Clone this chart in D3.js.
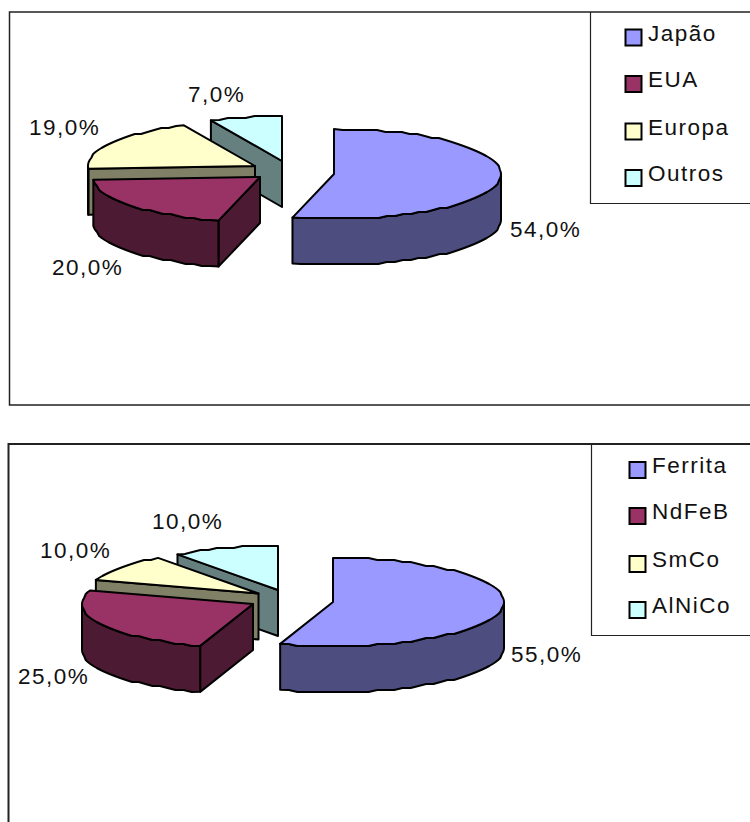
<!DOCTYPE html>
<html>
<head>
<meta charset="utf-8">
<script src="https://cdn.jsdelivr.net/npm/d3@7/dist/d3.min.js"></script>
<style>
  html, body { margin: 0; padding: 0; background: #fff; }
  svg { display: block; }
  text { font-family: "Liberation Sans", Arial, sans-serif; font-size: 22.5px; letter-spacing: 1.5px; fill: #111; }
</style>
</head>
<body>
<svg id="chart" width="750" height="822"></svg>
<script>
// Market share by region
const regionNames = ["Japão", "EUA", "Europa", "Outros"];
const regionShares = [54, 20, 19, 7];

// Market share by magnet material
const materialNames = ["Ferrita", "NdFeB", "SmCo", "AlNiCo"];
const materialShares = [55, 25, 10, 10];

const sliceColors = ["#9999ff", "#993366", "#ffffcc", "#ccffff"];
const sideColors = ["#4d4d80", "#4d1a33", "#808066", "#668080"];

// Exploded 3D layout: one apex per slice, paint order back to front
const regionLayout = {
  rx: 167, ry: 45, depth: 46,
  apex: [[334, 174], [260, 177], [255, 166], [282, 161]],
  order: [3, 2, 1, 0],
  labels: [[510, 237], [52, 275], [29, 135], [188, 102]],
  frame: { x: 9.5, top: 12, bottom: 405, width: 1.5 },
  legend: { x: 590, bottom: 203, swatchX: 625.5, textX: 648,
            swatchY: [29.5, 76, 123.5, 170], baseY: [41, 87, 135, 181] }
};
const materialLayout = {
  rx: 171, ry: 44, depth: 46,
  apex: [[333, 602], [253, 604], [258.5, 593.5], [278, 590]],
  order: [3, 2, 1, 0],
  labels: [[511, 662], [18, 684], [40, 558], [152, 529]],
  frame: { x: 8.5, top: 444, bottom: null, width: 2 },
  legend: { x: 591, bottom: 635, swatchX: 629.5, textX: 652,
            swatchY: [462, 508, 556, 602], baseY: [473, 519, 567, 613] }
};

const svg = d3.select("#chart");
const percent = d3.formatLocale({ decimal: ",", thousands: ".", grouping: [3], currency: ["", ""] }).format(".1f");
const pie = d3.pie().sort(null).startAngle(0).endAngle(2 * Math.PI);
const outline = d3.line();
const rimStep = Math.PI / 60;
const rimGrid = 2; // coarse vertical grid that gives the rim its stepped edge

function drawChart(names, shares, layout) {
  const { rx, ry, depth } = layout;
  const frame = svg.append("g")
    .attr("stroke", "#222").attr("stroke-width", layout.frame.width).attr("fill", "none");
  const frameLine = [[750, layout.frame.top], [layout.frame.x, layout.frame.top]];
  if (layout.frame.bottom === null) frameLine.push([layout.frame.x, 822]);
  else frameLine.push([layout.frame.x, layout.frame.bottom], [750, layout.frame.bottom]);
  frame.append("path").attr("d", outline(frameLine));
  frame.append("path").attr("stroke-width", 1.2).attr("d", outline([
    [layout.legend.x + 0.5, layout.frame.top],
    [layout.legend.x + 0.5, layout.legend.bottom + 0.5],
    [750, layout.legend.bottom + 0.5]
  ]));

  const arcs = pie(shares);

  layout.order.forEach(i => {
    const [cx, cy] = layout.apex[i];
    const sx = d3.scaleLinear().domain([-1, 1]).range([cx - rx, cx + rx]);
    const sy = d3.scaleLinear().domain([-1, 1]).range([cy - ry, cy + ry]);
    const at = a => [sx(Math.sin(a)), sy(-Math.cos(a))];
    const stepped = (a0, a1) => {
      const n = Math.max(1, Math.round((a1 - a0) / rimStep));
      return d3.range(n + 1).map(k => {
        const [x, y] = at(a0 + (a1 - a0) * k / n);
        return (k === 0 || k === n) ? [x, y] : [x, Math.round(y / rimGrid) * rimGrid];
      });
    };
    const { startAngle: a0, endAngle: a1 } = arcs[i];
    const g = svg.append("g").attr("stroke", "#000").attr("stroke-width", 2).attr("stroke-linejoin", "round");
    const wall = pts => g.append("path").attr("fill", sideColors[i]).attr("d",
      outline(pts.concat(pts.slice().reverse().map(([x, y]) => [x, y + depth]))) + "Z");

    // Cut faces and the front rim, only where they turn toward the viewer
    if (Math.sin(a0) < -1e-6) wall([[cx, cy], at(a0)]);
    if (Math.sin(a1) > 1e-6) wall([[cx, cy], at(a1)]);
    const r0 = Math.max(a0, Math.PI / 2), r1 = Math.min(a1, 3 * Math.PI / 2);
    if (r1 > r0) wall(stepped(r0, r1));

    g.append("path").attr("fill", sliceColors[i])
      .attr("d", outline([[cx, cy], ...stepped(a0, a1)]) + "Z");

    const [lx, ly] = layout.labels[i];
    svg.append("text").attr("x", lx).attr("y", ly).text(percent(shares[i]) + "%");
  });

  names.forEach((name, i) => {
    svg.append("rect")
      .attr("x", layout.legend.swatchX).attr("y", layout.legend.swatchY[i])
      .attr("width", 16).attr("height", 16)
      .attr("fill", sliceColors[i]).attr("stroke", "#000").attr("stroke-width", 2);
    svg.append("text").attr("x", layout.legend.textX).attr("y", layout.legend.baseY[i]).text(name);
  });
}

drawChart(regionNames, regionShares, regionLayout);
drawChart(materialNames, materialShares, materialLayout);
</script>
</body>
</html>
